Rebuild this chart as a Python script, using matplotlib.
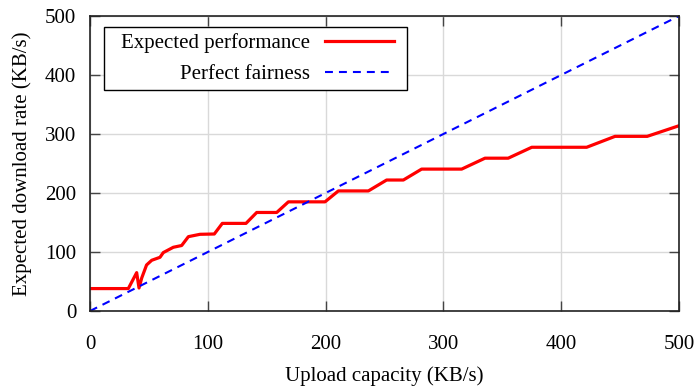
import matplotlib
matplotlib.use("Agg")
import matplotlib.pyplot as plt
from matplotlib.path import Path

upload = [0, 32.5, 39.6, 41.6, 43.9, 48, 52.4, 59.4, 62.2, 70.7, 77.8, 83.5, 93.4, 105.5, 112.3,
          132.4, 141.5, 158.5, 168.4, 199.5, 210.8, 236.3, 251.8, 266, 281.5, 315.5, 335.3, 355,
          375, 421.6, 445.7, 473, 500]
expected = [38, 38, 65, 39, 56, 78, 86, 91, 99, 108, 111, 126, 130, 130.5, 148.5,
            148.5, 167, 167, 185, 185, 203.5, 203.5, 222, 222, 240.5, 240.5, 259, 259,
            277.5, 277.5, 296, 296, 314]
fair_x = [0, 500]
fair_y = [0, 500]

plt.rcParams['font.family'] = ['Liberation Serif', 'DejaVu Serif']
fig = plt.figure(figsize=(7, 3.91), dpi=100)
ax = fig.add_axes([0.1286, 0.2046, 0.8414, 0.7545])
ax.plot(upload, expected, color='#ff0000', lw=2.3, label='Expected performance')
ax.plot(fair_x, fair_y, color='#0000ff', lw=1.5, ls=(0, (3.8, 2.9)), label='Perfect fairness')
ax.set_xlim(0, 500)
ax.set_ylim(0, 500)
ax.set_xticks(range(0, 501, 100))
ax.set_yticks(range(0, 501, 100))
ax.grid(True, color='#d9d9d9', lw=1)
ax.set_axisbelow(True)
ax.tick_params(direction='in', top=True, right=True, labelsize=15, length=7, width=1, color='#444444')
ax.tick_params(axis='x', pad=17)
ax.tick_params(axis='y', pad=10)
for s in ax.spines.values():
    s.set_linewidth(1.2)
    s.set_color('#222222')
ax.set_xlabel('Upload capacity (KB/s)', fontsize=15, labelpad=9)
ax.set_ylabel('Expected download rate (KB/s)', fontsize=15, labelpad=9)
leg = ax.legend(loc='upper left', bbox_to_anchor=(0.0416, 0.9617), markerfirst=False, fontsize=15,
                fancybox=False, framealpha=1, edgecolor='black', handlelength=3.3,
                borderpad=0.3, labelspacing=0.52, handletextpad=0.72, borderaxespad=0)


def hpad_box(x0, y0, width, height, mutation_size):
    pl = 0.5 * mutation_size
    pr = 0.35 * mutation_size
    verts = [(x0 - pl, y0), (x0 + width + pr, y0), (x0 + width + pr, y0 + height),
             (x0 - pl, y0 + height), (x0 - pl, y0)]
    codes = [Path.MOVETO, Path.LINETO, Path.LINETO, Path.LINETO, Path.CLOSEPOLY]
    return Path(verts, codes)


leg.get_frame().set_boxstyle(hpad_box)
leg.get_frame().set_linewidth(1)
fig.savefig('out.png', dpi=100)
